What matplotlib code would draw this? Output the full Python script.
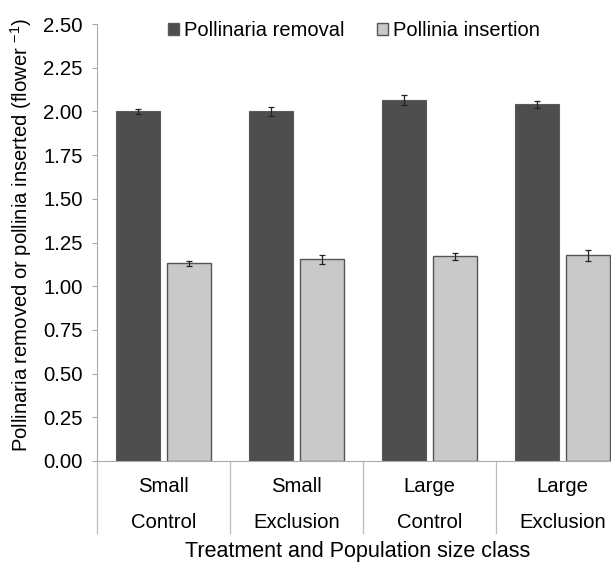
import matplotlib.pyplot as plt
import numpy as np
from matplotlib.patches import Patch

plt.rcParams['font.family'] = ['Liberation Sans', 'DejaVu Sans']
plt.rcParams['mathtext.fontset'] = 'custom'
plt.rcParams['mathtext.rm'] = 'Liberation Sans'
plt.rcParams['mathtext.it'] = 'Liberation Sans'

# data
size_class = ['Small', 'Small', 'Large', 'Large']
treatment = ['Control', 'Exclusion', 'Control', 'Exclusion']
removal = [2.00, 2.00, 2.065, 2.04]
removal_err = [0.015, 0.025, 0.028, 0.02]
insertion = [1.13, 1.153, 1.17, 1.177]
insertion_err = [0.012, 0.024, 0.019, 0.032]

fig = plt.figure(figsize=(6.11, 5.64), dpi=100)
# axes runs a little past the right edge, like the cropped original
ax = fig.add_axes([97/611, 103/564, 1 - 97/611, 437/564])

x = np.arange(len(treatment))
w = 0.33
off = 0.19

ax.bar(x - off, removal, w, color='#4e4e4e', edgecolor='#5a5a5a', lw=0.8,
       yerr=removal_err, capsize=2.5, error_kw=dict(ecolor='#222222', lw=0.9, capthick=0.9))
ax.bar(x + off, insertion, w, color='#c9c9c9', edgecolor='#555555', lw=1.0,
       yerr=insertion_err, capsize=2.5, error_kw=dict(ecolor='#222222', lw=0.9, capthick=0.9))

ax.set_xlim(-0.5, 3.365)
ax.set_ylim(0, 2.5)
ax.set_yticks(np.arange(0, 2.51, 0.25))
ax.set_yticklabels(['%.2f' % v for v in np.arange(0, 2.51, 0.25)], fontsize=14.7)
ax.tick_params(axis='y', length=3.8, width=0.8, color='#aaaaaa', pad=6.5)
ax.set_xticks([])

for s in ['top', 'right']:
    ax.spines[s].set_visible(False)
ax.spines['left'].set_color('#aaaaaa')
ax.spines['bottom'].set_color('#aaaaaa')

# category separators below the axis
trans = ax.get_xaxis_transform()
for xs in np.arange(-0.5, 4, 1.0):
    ax.plot([xs, xs], [0, -72/437], transform=trans, color='#bbbbbb', lw=0.9, clip_on=False)

for i in x:
    ax.text(i, -26/437, size_class[i], transform=trans, ha='center', va='center', fontsize=14.6)
    ax.text(i, -61/437, treatment[i], transform=trans, ha='center', va='center', fontsize=14.6)

fig.text(358/611, 1 - 552/564, 'Treatment and Population size class', ha='center', va='center', fontsize=15.5)
fig.text(21/611, 1 - 235/564, r'Pollinaria removed or pollinia inserted (flower $^{-1}$)',
         rotation=90, ha='center', va='center', fontsize=14.6)

handles = [Patch(facecolor='#4e4e4e', edgecolor='#5a5a5a'),
           Patch(facecolor='#c9c9c9', edgecolor='#555555')]
fig.legend(handles, ['Pollinaria removal', 'Pollinia insertion'], ncol=2, frameon=False,
           loc='center', bbox_to_anchor=(354/611, 1 - 31/564), fontsize=14.5,
           handlelength=0.55, handleheight=0.55, handletextpad=0.25, columnspacing=1.6)

plt.savefig('out.png', dpi=100)
plt.close()
